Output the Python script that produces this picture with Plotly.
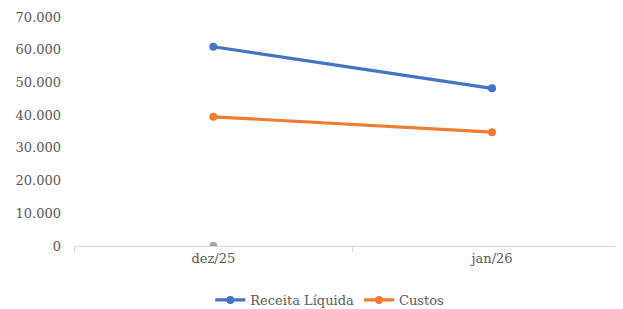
import plotly.graph_objects as go

categories = ["dez/25", "jan/26"]
receita = [60900, 48200]
custos = [39500, 34800]
extra_cat = ["dez/25"]
extra_val = [0]

FONT = "DejaVu Serif"
TXT = "#595959"

fig = go.Figure()
fig.add_trace(go.Scatter(x=categories, y=receita, name="Receita Líquida", mode="lines+markers",
                         line=dict(color="#4472C4", width=3.2), marker=dict(size=8, color="#4472C4")))
fig.add_trace(go.Scatter(x=categories, y=custos, name="Custos", mode="lines+markers",
                         line=dict(color="#ED7D31", width=3.2), marker=dict(size=8, color="#ED7D31")))
fig.add_trace(go.Scatter(x=extra_cat, y=extra_val, name="", mode="markers", showlegend=False,
                         marker=dict(size=8, color="#A5A5A5")))

# page body adds an 8px offset, so the figure is sized 8px smaller
fig.update_layout(
    width=615, height=301,
    margin=dict(l=66, r=0, t=9, b=63, autoexpand=False),
    paper_bgcolor="white", plot_bgcolor="white",
    font=dict(family=FONT, size=13, color=TXT),
    showlegend=True,
    legend=dict(orientation="h", x=0.466, xanchor="center", y=-0.17, yanchor="top",
                font=dict(family=FONT, size=13, color=TXT), itemwidth=30, tracegroupgap=0),
)
fig.update_xaxes(type="category", range=[-0.5, 1.47], showgrid=False, showline=True,
                 linecolor="#D9D9D9", linewidth=1, ticks="outside", tickson="boundaries",
                 ticklen=5, tickcolor="#D9D9D9", zeroline=False, automargin=False,
                 tickfont=dict(size=13, color=TXT))
fig.update_yaxes(range=[0, 70000], tickvals=[0, 10000, 20000, 30000, 40000, 50000, 60000, 70000],
                 ticktext=["0", "10.000", "20.000", "30.000", "40.000", "50.000", "60.000", "70.000"],
                 showgrid=False, zeroline=False, showline=False, ticks="", ticklabelstandoff=12,
                 automargin=False, tickfont=dict(size=13, color=TXT))

fig.write_html("out.html")
